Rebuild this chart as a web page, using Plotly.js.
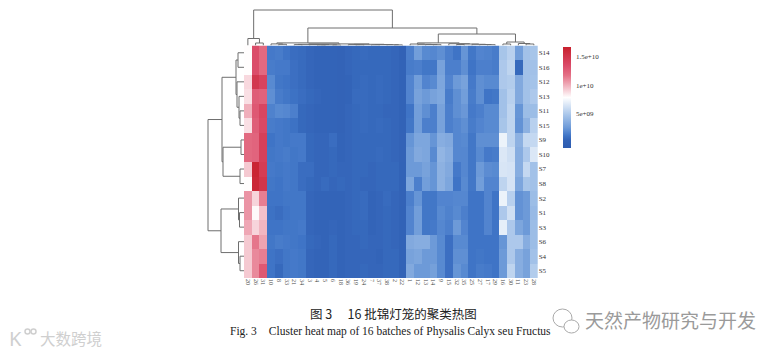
<!DOCTYPE html>
<html><head><meta charset="utf-8">
<script src="https://cdn.plot.ly/plotly-3.0.1.min.js"></script>
<style>html,body{margin:0;padding:0;background:#fff}</style></head>
<body><div id="chart" style="width:779px;height:353px"></div>
<script>
// Column labels, left to right
const colLabels = [20,26,31,10,8,33,21,34,3,4,5,6,18,36,19,24,7,37,38,2,22,1,12,13,14,9,15,32,35,25,27,17,29,16,30,11,23,28];
const rowLabels = ['S14','S16','S12','S13','S11','S15','S9','S10','S7','S8','S2','S1','S3','S6','S4','S5'];
// Values in units of 1e9, one array per sample
const S14 = [7.9,13.3,12.0, 1.4,1.5,1.2,.9,.8,.6,.5,.5,.5,.4,.6,.7,.8,.7,.7,.7,.6, .2,1.6,2.8,2.0,1.9,2.2,1.6,1.2,2.4,1.3,1.8,1.7,1.5,4.8,5.4,2.8,4.6,4.8];
const S16 = [7.9,13.3,12.0, 1.5,1.4,1.4,1.0,.8,.6,.5,.5,.5,.4,.6,.7,.7,.7,.7,.7,.6, .3,1.5,1.6,1.3,1.3,3.0,1.6,1.6,2.2,1.2,1.6,1.6,1.5,5.0,5.6,.7,4.6,4.6];
const S12 = [8.9,14.8,14.0, 2.0,1.3,1.2,1.0,.8,.6,.5,.5,.5,.4,.5,.7,.8,.7,.8,.7,.6, .3,1.8,2.8,1.8,2.0,3.2,1.8,2.6,3.0,1.4,2.2,2.0,2.0,5.0,5.2,3.4,4.6,4.7];
const S13 = [8.7,12.5,12.3, 2.2,1.5,1.3,1.1,.9,.7,.6,.5,.5,.4,.5,.8,.8,.7,.8,.7,.6, .3,1.8,3.0,2.6,3.0,3.3,1.5,2.2,2.8,1.5,2.2,1.2,1.3,4.6,5.4,3.4,4.6,5.0];
const S11 = [10.0,12.8,13.8, 1.7,2.0,1.9,1.6,.7,.6,.5,.5,.5,.4,.6,.7,.8,.7,.7,.6,.6, .3,1.2,2.8,2.2,1.6,3.0,1.6,2.2,2.5,1.4,1.6,2.0,2.0,4.6,5.6,2.4,4.4,4.4];
const S15 = [8.7,12.5,13.6, 1.5,1.4,1.3,1.1,.7,.6,.5,.5,.5,.4,.6,.7,.8,.7,.8,.7,.6, .3,1.3,2.8,1.6,1.6,3.0,1.6,1.9,2.2,1.5,1.8,2.0,2.0,4.8,5.6,2.3,3.8,5.4];
const S9  = [12.0,12.2,14.2, 1.2,1.4,1.3,1.4,1.4,.7,.6,.6,.9,.5,.6,.7,.7,.7,.7,.7,.6, .4,2.4,3.2,3.2,2.4,3.6,3.4,1.9,2.0,1.3,2.2,2.2,2.2,7.2,5.6,3.8,5.8,5.8];
const S10 = [12.0,12.2,14.2, 1.3,1.4,1.5,1.3,1.4,.7,.6,.6,.7,.5,.6,.7,.7,.7,.8,.7,.6, .4,2.6,3.4,3.2,2.0,4.0,3.6,1.9,1.9,1.3,2.0,1.4,1.5,6.6,6.2,3.6,5.0,6.6];
const S7  = [9.3,16.2,14.5, 1.4,1.3,1.4,1.3,.9,.9,.6,.6,.7,.6,.6,.7,.7,.6,.7,.7,.7, .3,2.6,2.6,3.0,2.4,3.8,3.4,1.4,1.9,1.3,2.6,2.1,2.0,6.5,6.4,3.6,5.8,4.6];
const S8  = [7.9,16.0,15.0, 1.3,1.2,1.4,1.3,.9,.7,.6,.8,.6,.7,.6,.7,.6,.6,.7,.7,.7, .3,3.2,1.6,2.8,2.4,3.8,3.2,1.2,2.0,1.3,2.8,1.8,1.8,5.6,6.4,3.2,4.8,4.6];
const S2  = [10.7,9.0,11.3, 1.2,1.2,1.3,1.3,1.3,.6,.5,.5,.5,.5,.6,.7,.8,.5,.6,.8,.6, .4,1.6,2.4,1.3,1.3,1.8,1.8,1.9,1.9,1.2,1.2,1.8,1.2,7.2,5.4,2.3,2.6,4.4];
const S1  = [10.7,8.0,9.5, 1.1,.9,1.2,1.3,1.3,.6,.5,.5,.5,.5,.6,.7,.8,.5,.6,.7,.6, .3,1.8,2.8,1.3,1.3,2.0,1.7,2.0,1.6,1.2,1.2,1.8,1.2,5.0,6.2,2.3,2.6,4.2];
const S3  = [10.2,9.0,9.8, 1.2,1.2,1.3,1.3,1.4,.6,.5,.5,.6,.5,.6,.7,.7,.5,.6,.7,.6, .3,1.8,2.8,1.3,1.4,1.9,1.6,2.6,1.8,1.2,1.2,1.8,1.2,7.0,5.0,3.2,2.6,4.4];
const S6  = [9.3,11.5,10.3, 1.3,1.5,1.4,1.3,1.2,.7,.6,.5,.7,.5,.6,.6,.7,.6,.6,.7,.6, .3,3.4,3.6,3.6,2.6,2.0,1.0,2.0,2.0,1.2,1.2,1.2,1.2,2.4,5.0,5.0,3.6,4.4];
const S4  = [9.3,11.0,11.3, 1.2,1.0,1.3,1.4,1.3,.6,.5,.5,.7,.5,.6,.6,.6,.6,.5,.7,.7, .3,3.0,3.2,2.6,2.6,2.0,1.0,2.2,2.2,1.2,1.3,1.2,1.2,2.6,5.0,3.6,3.0,4.6];
const S5  = [9.3,11.0,12.8, 1.2,.7,1.3,1.4,1.3,.6,.5,.5,.7,.5,.6,.6,.7,.6,.6,.7,.7, .3,3.4,2.6,2.6,2.9,2.0,1.0,2.4,2.0,1.2,1.5,1.4,1.2,2.6,5.6,3.6,3.0,5.2];
const matrix = [S14,S16,S12,S13,S11,S15,S9,S10,S7,S8,S2,S1,S3,S6,S4,S5];
// Dendrograms as nested [height, left, right]; numbers are leaf positions
const colTree = [35.5,
  [7, 0, [2.5, 1, 2]],
  [17.5,
    [2.6,
      [1.6, 3, [1.2, 4, 5]],
      [1.6,
        [1.1, [0.9, 6, 7], [0.9, 8, [0.7, [0.5, 9, 10], [0.5, 11, 12]]]],
        [1.2, [0.9, 13, [0.7, 14, 15]], [1.0, [0.7, 16, 17], [0.8, 18, [0.6, 19, 20]]]]]],
    [11.5,
      [2.6,
        [1.5, 21, [1.2, 22, [1.0, 23, [0.8, 24, 25]]]],
        [1.8, 26, [1.5, [1.0, 27, 28], [1.2, 29, [1.0, 30, [0.8, 31, 32]]]]]],
      [3.5,
        [1.5, 33, 34],
        [2.0, 35, [1.5, 36, 37]]]]]];
const rowTree = [36,
  [22,
    [8, [6, 0, 1], [7, 2, [5, 3, [4, 4, 5]]]],
    [21, [3, 6, 7], [4, 8, 9]]],
  [23,
    [5.5, 10, [4.5, 11, 12]],
    [5.5, 13, [4, 14, 15]]]];
const colorTicks = [5e9, 1e10, 1.5e10];
const colorTickText = ['5e+09', '1e+10', '1.5e+10'];
const titleCn = '图 3　 16 批锦灯笼的聚类热图';
const titleEn = 'Fig. 3　Cluster heat map of 16 batches of Physalis Calyx seu Fructus';
const markOne = '天然产物研究与开发';
const markTwo = '大数跨境';

function segments(tree) {
  const along = [], height = [];
  (function walk(n) {
    if (typeof n === 'number') return [n, 0];
    const a = walk(n[1]), b = walk(n[2]), h = n[0];
    along.push(a[0], a[0], b[0], b[0], null);
    height.push(a[1], h, h, b[1], null);
    return [(a[0] + b[0]) / 2, h];
  })(tree);
  return {along, height};
}
const W = 779, H = 353, px = x => x / W, py = y => 1 - y / H;
const top_ = segments(colTree), left_ = segments(rowTree);
const serif = 'Liberation Serif, serif';
const lineStyle = {color: '#6e6e6e', width: 1};
const data = [
  {type: 'heatmap', z: matrix.map(r => r.map(v => v * 1e9)), x: colLabels.map((_, i) => i), y: rowLabels.map((_, i) => i),
   zmin: -0.9e9, zmax: 16.6e9, xgap: 0, ygap: 0, hoverinfo: 'skip',
   colorscale: [[0, '#2d5cb0'], [0.08, '#3364b8'], [0.12, '#3f74c6'], [0.16, '#5587d0'], [0.2, '#6d9ad8'], [0.33, '#a9c6ea'], [0.5, '#ffffff'], [0.72, '#e46f85'], [0.82, '#da4a68'], [1, '#c8202d']],
   colorbar: {thicknessmode: 'pixels', thickness: 8, lenmode: 'pixels', len: 101, x: px(563), xanchor: 'left',
     y: py(47), yanchor: 'top', xpad: 0, ypad: 0, outlinewidth: 0, ticks: 'outside', ticklen: 4, tickcolor: 'rgba(255,255,255,0)',
     tickmode: 'array', tickvals: colorTicks, ticktext: colorTickText,
     tickfont: {family: serif, size: 7, color: '#333'}}},
  {type: 'scatter', mode: 'lines', x: top_.along, y: top_.height, xaxis: 'x', yaxis: 'y2', line: lineStyle, hoverinfo: 'skip', showlegend: false},
  {type: 'scatter', mode: 'lines', x: left_.height, y: left_.along, xaxis: 'x2', yaxis: 'y', line: lineStyle, hoverinfo: 'skip', showlegend: false}
];
const centered = {xref: 'paper', yref: 'paper', showarrow: false, xanchor: 'center', yanchor: 'middle'};
const layout = {
  width: W, height: H, margin: {l: 0, r: 0, t: 0, b: 0}, paper_bgcolor: '#fff', plot_bgcolor: '#fff', showlegend: false,
  xaxis: {domain: [px(244), px(537.7)], range: [-0.5, 37.5], anchor: 'y', tickmode: 'array', tickvals: colLabels.map((_, i) => i),
    ticktext: colLabels.map(String), tickangle: 90, ticks: '', showgrid: false, zeroline: false, showline: false,
    tickfont: {family: serif, size: 6, color: '#444'}},
  yaxis: {domain: [py(278), py(45.5)], range: [15.5, -0.5], anchor: 'x', side: 'right', tickmode: 'array', tickvals: rowLabels.map((_, i) => i),
    ticktext: rowLabels, ticks: '', showgrid: false, zeroline: false, showline: false,
    tickfont: {family: serif, size: 7, color: '#333'}},
  xaxis2: {domain: [px(205), px(244)], range: [39, 0], anchor: 'y', visible: false},
  yaxis2: {domain: [py(45.5), py(5)], range: [0, 40.5], anchor: 'x', visible: false},
  annotations: [
    Object.assign({text: titleCn, x: px(393), y: py(313), font: {family: 'Noto Sans CJK SC', size: 12.5, color: '#222'}}, centered),
    Object.assign({text: titleEn, x: px(391), y: py(331), font: {family: serif, size: 11.5, color: '#222'}}, centered),
    Object.assign({text: markOne, x: px(670), y: py(319), font: {family: 'Noto Sans CJK SC', size: 19, color: '#9a9a9a'}}, centered),
    Object.assign({text: markTwo, x: px(71), y: py(338), font: {family: 'Noto Sans CJK SC', size: 15.5, color: '#cfcfcf'}}, centered),
    Object.assign({text: 'K', x: px(16), y: py(338), font: {family: 'Noto Sans', size: 20, color: '#cfcfcf'}}, centered)
  ],
  shapes: [
    {type: 'circle', xref: 'paper', yref: 'paper', x0: px(553), x1: px(572), y0: py(327), y1: py(309), line: {color: '#aaa', width: 1}, fillcolor: '#fff'},
    {type: 'circle', xref: 'paper', yref: 'paper', x0: px(564), x1: px(579), y0: py(333), y1: py(320), line: {color: '#aaa', width: 1}, fillcolor: '#fff'},
    {type: 'circle', xref: 'paper', yref: 'paper', x0: px(25), x1: px(30), y0: py(334), y1: py(329), line: {color: '#cfcfcf', width: 1.5}},
    {type: 'circle', xref: 'paper', yref: 'paper', x0: px(31), x1: px(36), y0: py(334), y1: py(329), line: {color: '#cfcfcf', width: 1.5}}
  ]
};
Plotly.newPlot('chart', data, layout, {displayModeBar: false, staticPlot: true});
</script></body></html>
